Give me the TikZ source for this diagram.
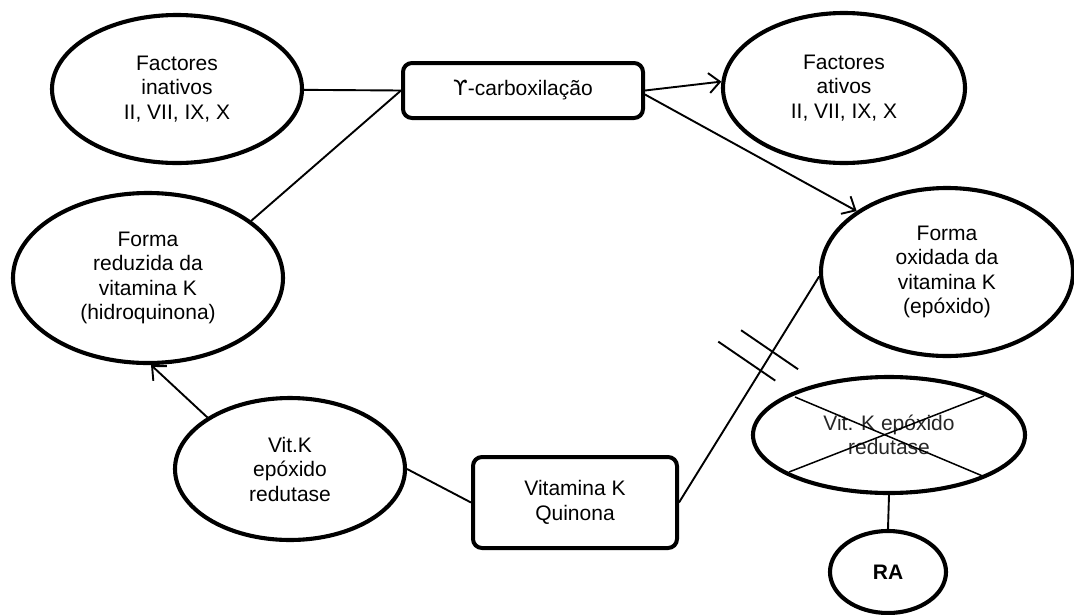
\documentclass[tikz,border=0pt]{standalone}
\usepackage{fontspec}
\setmainfont{Liberation Sans}
\newfontfamily\dejavu{DejaVu Sans}
\usetikzlibrary{arrows.meta,calc,shapes.geometric}
\begin{document}
\begin{tikzpicture}[x=1pt,y=-1pt,
  every node/.style={font=\fontsize{21}{24.5}\selectfont, align=center, inner sep=0pt},
  oval/.style={ellipse, draw, line width=4.1pt},
  box/.style={draw, rounded corners=9pt, line width=4pt},
  conn/.style={line width=1.9pt},
  thin conn/.style={line width=1.5pt},
  arr/.style={conn, -{Straight Barb[length=11pt,width=20pt,line width=1.9pt]}},
]
\useasboundingbox (0,0) rectangle (1074,614);
\fill[white] (0,0) rectangle (1074,614);

\node[oval, minimum width=250pt, minimum height=148pt] (ina) at (177,89) {Factores\\inativos\\II, VII, IX, X};
\node[oval, minimum width=242pt, minimum height=150pt] (act) at (844,88) {Factores\\ativos\\II, VII, IX, X};
\node[oval, minimum width=270pt, minimum height=170pt] (red) at (148,278) {Forma\\reduzida da\\vitamina K\\(hidroquinona)};
\node[oval, minimum width=252pt, minimum height=168pt] (ox) at (947,272) {Forma\\oxidada da\\vitamina K\\(epóxido)};
\node[oval, minimum width=230pt, minimum height=142pt] (vk) at (290,469) {Vit.K\\epóxido\\redutase};
\node[oval, minimum width=272pt, minimum height=116pt, text=black!85] (cr) at (889,435) {Vit. K epóxido\\redutase};
\node[oval, minimum width=116pt, minimum height=82pt] (ra) at (888,572) {\textbf{RA}};
\node[box, minimum width=240pt, minimum height=55pt] (y) at (523,90.5) {{\dejavu ϒ}-carboxilação};
\node[box, minimum width=204pt, minimum height=91pt] (q) at (575,502.5) {Vitamina K\\Quinona};

% crossed-out enzyme
\draw[thin conn] ($(cr.center)+(-94,-38)$) -- ($(cr.center)+(96,42)$);
\draw[thin conn] ($(cr.center)+(-100,37)$) -- ($(cr.center)+(95,-39)$);

% connectors
\draw[conn] (ina) -- (y.west);
\draw[conn] (red.29) -- (y.west);
\draw[arr] (y.east) -- (act.177);
\draw[arr] ([yshift=-4pt]y.east) -- (ox.146);
\draw[conn] (q.east) -- (ox.182) coordinate[pos=0.5835] (s1) coordinate[pos=0.667] (s2);
\draw[conn] ($(s1)+(-42.5,-29)$) -- ($(s1)+(14.5,10)$);
\draw[conn] ($(s2)+(-31.4,-21.5)$) -- ($(s2)+(25.6,17.5)$);
\draw[conn] (vk.east) -- (q.west);
\draw[arr] (vk.148) -- (red.272);
\draw[conn] (cr.south) -- (ra.north);
\end{tikzpicture}
\end{document}
